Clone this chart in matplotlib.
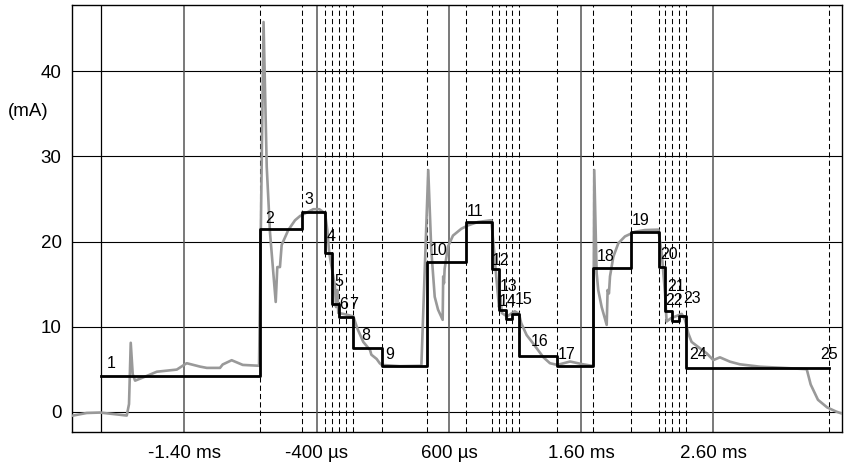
import matplotlib
matplotlib.use("Agg")
import matplotlib.pyplot as plt

# ---------------- data ----------------
# event times (µs) and step levels (mA)
event_t = [-2027, -828, -512, -333, -282, -233, -178, -128, 91, 432, 728, 928,
           978, 1030, 1079, 1129, 1420, 1692, 1974, 2187, 2237, 2288, 2338, 2390, 3471]
event_level = [4.23, 21.5, 23.5, 18.7, 12.65, 11.1, 11.1, 7.5, 5.37, 17.55, 22.25,
               16.73, 11.95, 10.85, 11.5, 6.58, 5.4, 16.9, 21.15, 17.05, 11.87,
               10.7, 11.25, 5.15, 5.15]
event_names = [str(i) for i in range(1, 26)]

# measured current trace (µs, mA)
trace_t = [-2240, -2138, -2037, -1835, -1818, -1805, -1790, -1772, -1700, -1608,
           -1457, -1382, -1281, -1230, -1130, -1110, -1042, -958, -835, -801,
           -777, -752, -709, -697, -677, -664, -614, -563, -525, -488, -425,
           -380, -336, -319, -304, -274, -261, -253, -243, -236, -200, -172,
           -122, -97, -87, -47, 4, 14, 54, 77, 92, 230, 392, 444, 467, 493,
           518, 553, 557, 563, 568, 593, 631, 694, 745, 820, 921, 941, 958,
           979, 990, 1000, 1040, 1098, 1130, 1147, 1188, 1238, 1314, 1364,
           1420, 1516, 1604, 1680, 1692, 1699, 1717, 1729, 1755, 1793, 1800,
           1810, 1818, 1843, 1881, 1931, 2007, 2082, 2183, 2209, 2234, 2246,
           2280, 2330, 2360, 2385, 2410, 2435, 2498, 2549, 2599, 2649, 2725,
           2800, 2952, 3103, 3305, 3335, 3390, 3460, 3530, 3568]
trace_v = [-0.45, -0.15, -0.1, -0.45, 0.9, 8.1, 4.4, 3.65, 4.1, 4.7,
           4.95, 5.7, 5.3, 5.15, 5.15, 5.55, 6.05, 5.5, 5.4, 45.8,
           28.8, 21.0, 12.9, 17.0, 17.0, 19.6, 21.35, 22.5, 23.0, 23.3, 23.8,
           23.8, 23.3, 21.35, 18.6, 15.9, 14.7, 12.3, 14.3, 11.6, 11.5, 11.4,
           11.2, 10.0, 9.6, 8.2, 7.25, 6.7, 6.2, 5.7, 5.5, 5.35, 5.4, 28.4, 19.0, 13.5,
           12.0, 10.8, 15.9, 15.1, 16.8, 19.4, 20.7, 21.5, 21.9, 22.3, 22.5, 19.0, 15.9,
           12.3, 13.6, 11.6, 11.2, 11.8, 11.5, 10.4, 9.0, 8.0, 6.4, 5.7,
           5.5, 5.9, 5.6, 5.4, 5.5, 28.4, 16.3, 14.3, 12.3, 10.2, 14.3,
           13.9, 15.9, 18.2, 19.8, 20.6, 21.15, 21.35, 21.4, 18.6, 13.9, 10.6,
           11.0, 11.3, 11.5, 10.8, 9.2, 8.2, 7.45, 6.86, 6.07, 6.39, 5.88,
           5.57, 5.29, 5.17, 5.0, 3.2, 1.4, 0.5, 0.0, -0.2]

xtick_vals = [-1400, -400, 600, 1600, 2600]
xtick_labels = ["-1.40 ms", "-400 µs", "600 µs", "1.60 ms", "2.60 ms"]
ytick_vals = [0, 10, 20, 30, 40]

# label offsets (pixels, centre of text relative to event start/level) - layout only
label_dx = [10, 10, 7.6, 5.3, 6.3, 5.3, 8, 13, 8, 11.6, 9.3, 8.4, 10, 1.6, 11.7,
            21, 9.4, 12.7, 10, 10.3, 10.3, 2, 13, 12.6, 0.6]
label_dy = [12.4, 10.7, 12.7, 16, 23, 12.3, 12.3, 12.7, 12, 12.3, 10.6, 9.3, 23.3,
            17.6, 14.7, 14, 11.4, 11, 11, 11.7, 24.7, 20, 17, 13.3, 13.3]

# ---------------- figure ----------------
plt.rcParams["font.family"] = ["Liberation Sans", "DejaVu Sans"]
W, H = 847, 465
fig = plt.figure(figsize=(W / 100, H / 100), dpi=100)
ax = fig.add_axes([72 / W, 1 - 432.3 / H, (841.5 - 72) / W, (432.3 - 5) / H])
ax.set_xlim(-2249, 3568)
ax.set_ylim(-2.42, 47.8)

# grid
for y in ytick_vals:
    ax.axhline(y, color="black", lw=0.8, zorder=1)
for x in xtick_vals:
    ax.axvline(x, color="#555555", lw=1.1, zorder=1)

# event lines
for i, t in enumerate(event_t):
    if i == 0:
        ax.axvline(t, color="black", lw=0.9, zorder=2)
    else:
        ax.axvline(t, color="black", lw=0.75, ls=(0, (5, 3)), zorder=2)

# measured trace
ax.plot(trace_t, trace_v, color="#999999", lw=1.9, zorder=3, solid_joinstyle="round")

# step function
ax.plot(event_t, event_level, drawstyle="steps-post", color="black", lw=2.0, zorder=4)

# labels
for name, t, lv, dx, dy in zip(event_names, event_t, event_level, label_dx, label_dy):
    ax.annotate(name, (t, lv), xytext=(dx * 0.72, dy * 0.72), textcoords="offset points",
                ha="center", va="center", fontsize=11.5, color="black", zorder=5)

ax.set_xticks(xtick_vals)
ax.set_xticklabels(xtick_labels)
ax.set_yticks(ytick_vals)
ax.set_yticklabels([str(v) for v in ytick_vals])
ax.tick_params(axis="both", length=0, labelsize=13.5)
ax.tick_params(axis="y", pad=7.5)
ax.tick_params(axis="x", pad=9)
for s in ax.spines.values():
    s.set_linewidth(1.0)
    s.set_color("black")

fig.text(28 / W, 1 - 111.7 / H, "(mA)", ha="center", va="center", fontsize=13.5)

fig.savefig("out.png", dpi=100)
